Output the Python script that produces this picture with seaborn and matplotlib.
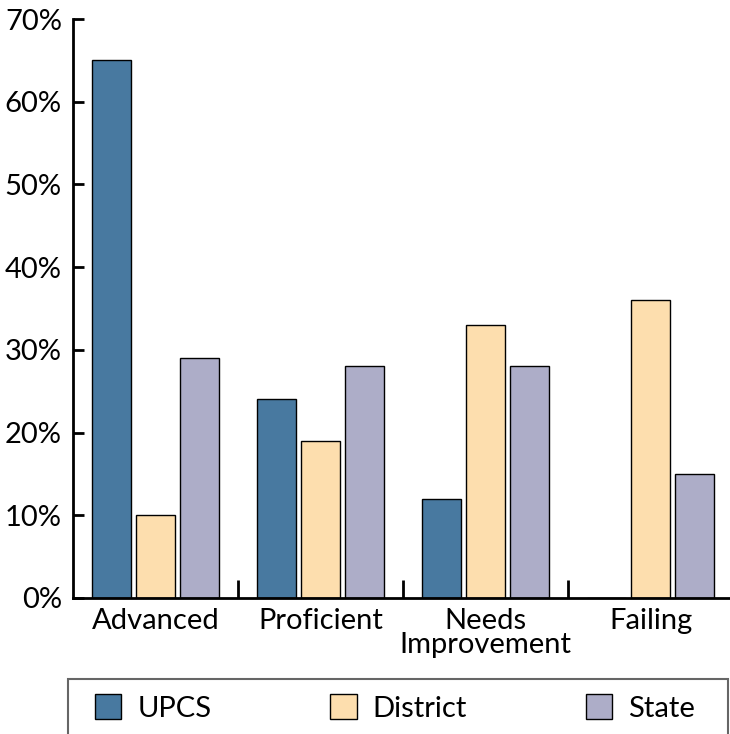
import matplotlib
matplotlib.use("Agg")
import matplotlib.pyplot as plt
import seaborn as sns
import pandas as pd
from matplotlib.ticker import FixedLocator, FuncFormatter
from matplotlib.patches import Rectangle

categories = ["Advanced", "Proficient", "Needs\nImprovement", "Failing"]
groups = ["UPCS", "District", "State"]
upcs = [65, 24, 12, 0]
district = [10, 19, 33, 36]
state = [29, 28, 28, 15]
colors = ["#4879A0", "#FDDEAE", "#ADADC8"]

rows = []
for g, vals in zip(groups, [upcs, district, state]):
    for c, v in zip(categories, vals):
        rows.append({"category": c, "group": g, "value": v})
df = pd.DataFrame(rows)

sns.set_style("white")
plt.rcParams["font.family"] = ["Lato", "DejaVu Sans"]
plt.rcParams["text.color"] = "black"

fig = plt.figure(figsize=(7.3, 7.34), dpi=100)
ax = fig.add_axes([73 / 730, 136 / 734, 660 / 730, 579 / 734])

sns.barplot(data=df, x="category", y="value", hue="group", order=categories,
            hue_order=groups, palette=colors, saturation=1, edgecolor="black",
            linewidth=1.0, width=0.8, gap=0.1, ax=ax, legend=True)

ax.set_xlim(-0.5, 3.5)
ax.set_ylim(0, 70)
ax.set_xlabel("")
ax.set_ylabel("")
ax.set_yticks(range(0, 71, 10))
ax.yaxis.set_major_formatter(FuncFormatter(lambda v, p: f"{int(v)}%"))

for s in ["top", "right"]:
    ax.spines[s].set_visible(False)
for s in ["left", "bottom"]:
    ax.spines[s].set_color("black")
    ax.spines[s].set_linewidth(2)

ax.tick_params(axis="y", direction="in", length=8, width=2, pad=8,
               labelsize=21, colors="black", left=True)
ax.tick_params(axis="x", which="major", length=0, pad=7, labelsize=21,
               colors="black")
ax.xaxis.set_minor_locator(FixedLocator([0.5, 1.5, 2.5]))
ax.tick_params(axis="x", which="minor", direction="in", length=13, width=2,
               bottom=True, color="black")
for lbl in ax.get_xticklabels():
    lbl.set_linespacing(0.92)

ax.get_legend().remove()
frame = Rectangle((68 / 730, -0.05), 660 / 730, 0.05 + (734 - 679) / 734,
                  transform=fig.transFigure, facecolor="none",
                  edgecolor="#666666", linewidth=1.5)
fig.add_artist(frame)
handles = [Rectangle((0, 0), 1, 1, facecolor=c, edgecolor="black", linewidth=1)
           for c in colors]
leg = fig.legend(handles, groups, loc="center left",
                 bbox_to_anchor=(95 / 730, 1 - 708 / 734, 600 / 730, 0.0),
                 mode="expand", ncol=3, fontsize=21, frameon=False,
                 handlelength=0.9, handleheight=0.95,
                 handletextpad=0.55, borderpad=0.0, borderaxespad=0.0)

fig.savefig("out.png", dpi=100)
